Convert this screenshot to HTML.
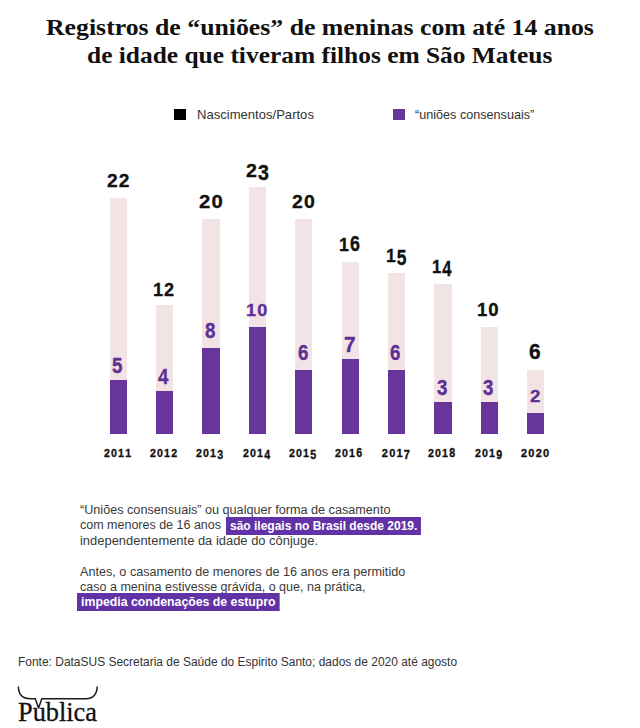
<!DOCTYPE html>
<html><head><meta charset="utf-8">
<style>
html,body{margin:0;padding:0;background:#fff;}
body{width:640px;height:728px;position:relative;overflow:hidden;font-family:"Liberation Sans",sans-serif;}
.ln{position:absolute;white-space:nowrap;transform-origin:0 0;}
.hl{background:#6233a6;color:#fff;font-weight:bold;padding:2px 4px 2px 4px;} .dg{display:flex;align-items:flex-start;white-space:nowrap} .dg>div{flex:none}
.pk{position:absolute;width:17.2px;background:#f2e4e5;}
.pu{position:absolute;width:17.2px;background:#68369a;}
.sq{position:absolute;width:12px;height:11px;top:109px;}
</style></head><body>
<div class="pk" style="left:109.60px;top:197.50px;height:236.50px"></div>
<div class="pu" style="left:109.60px;top:380.25px;height:53.75px"></div>
<div class="pk" style="left:155.99px;top:305.00px;height:129.00px"></div>
<div class="pu" style="left:155.99px;top:391.00px;height:43.00px"></div>
<div class="pk" style="left:202.38px;top:219.00px;height:215.00px"></div>
<div class="pu" style="left:202.38px;top:348.00px;height:86.00px"></div>
<div class="pk" style="left:248.77px;top:186.75px;height:247.25px"></div>
<div class="pu" style="left:248.77px;top:326.50px;height:107.50px"></div>
<div class="pk" style="left:295.16px;top:219.00px;height:215.00px"></div>
<div class="pu" style="left:295.16px;top:369.50px;height:64.50px"></div>
<div class="pk" style="left:341.55px;top:262.00px;height:172.00px"></div>
<div class="pu" style="left:341.55px;top:358.75px;height:75.25px"></div>
<div class="pk" style="left:387.94px;top:272.75px;height:161.25px"></div>
<div class="pu" style="left:387.94px;top:369.50px;height:64.50px"></div>
<div class="pk" style="left:434.33px;top:283.50px;height:150.50px"></div>
<div class="pu" style="left:434.33px;top:401.75px;height:32.25px"></div>
<div class="pk" style="left:480.72px;top:326.50px;height:107.50px"></div>
<div class="pu" style="left:480.72px;top:401.75px;height:32.25px"></div>
<div class="pk" style="left:527.11px;top:369.50px;height:64.50px"></div>
<div class="pu" style="left:527.11px;top:412.50px;height:21.50px"></div>
<div class="ln" style="left:46.25px;top:15px;transform:scaleX(1.1454);font-family:'Liberation Serif',serif;font-weight:bold;font-size:22.5px;line-height:26px;color:#111;">Registros de “uniões” de meninas com até 14 anos</div>
<div class="ln" style="left:87.00px;top:43px;transform:scaleX(1.1299);font-family:'Liberation Serif',serif;font-weight:bold;font-size:22.5px;line-height:26px;color:#111;">de idade que tiveram filhos em São Mateus</div>
<div class="ln" style="left:197.40px;top:107px;transform:scaleX(1.0052);font-family:'Liberation Sans',sans-serif;font-size:13px;line-height:16px;color:#333;">Nascimentos/Partos</div>
<div class="ln" style="left:414.60px;top:107px;transform:scaleX(0.9707);font-family:'Liberation Sans',sans-serif;font-size:13px;line-height:16px;color:#333;">“uniões consensuais”</div>
<div class="ln" style="left:80.40px;top:503px;transform:scaleX(1.0529);font-family:'Liberation Sans',sans-serif;font-size:12px;line-height:15px;color:#3a3a3a;">“Uniões consensuais” ou qualquer forma de casamento</div>
<div class="ln" style="left:80.40px;top:518px;transform:scaleX(1.0412);font-family:'Liberation Sans',sans-serif;font-size:12px;line-height:15px;color:#3a3a3a;">com menores de 16 anos</div>
<div class="ln" style="left:225.75px;top:519px;transform:scaleX(0.9997);font-family:'Liberation Sans',sans-serif;font-size:12px;line-height:15px;color:#3a3a3a;"><span class="hl">são ilegais no Brasil desde 2019.</span></div>
<div class="ln" style="left:80.40px;top:534px;transform:scaleX(1.0777);font-family:'Liberation Sans',sans-serif;font-size:12px;line-height:15px;color:#3a3a3a;">independentemente da idade do cônjuge.</div>
<div class="ln" style="left:80.10px;top:565px;transform:scaleX(1.0531);font-family:'Liberation Sans',sans-serif;font-size:12px;line-height:15px;color:#3a3a3a;">Antes, o casamento de menores de 16 anos era permitido</div>
<div class="ln" style="left:80.10px;top:580px;transform:scaleX(1.0436);font-family:'Liberation Sans',sans-serif;font-size:12px;line-height:15px;color:#3a3a3a;">caso a menina estivesse grávida, o que, na prática,</div>
<div class="ln" style="left:76.75px;top:595px;transform:scaleX(1.0235);font-family:'Liberation Sans',sans-serif;font-size:12px;line-height:15px;color:#3a3a3a;"><span class="hl">impedia condenações de estupro</span></div>
<div class="ln" style="left:18.25px;top:655px;transform:scaleX(0.9972);font-family:'Liberation Sans',sans-serif;font-size:12px;line-height:15px;color:#333;">Fonte: DataSUS Secretaria de Saúde do Espirito Santo; dados de 2020 até agosto</div>
<div class="ln" style="left:17.90px;top:698px;transform:scaleX(0.9938);font-family:'Liberation Serif',serif;font-size:26.5px;line-height:28px;color:#111;-webkit-text-stroke:0.3px #111;">Publica</div>
<div class="ln dg" style="left:106.60px;top:157px;transform:scaleX(1.0667);font-family:'Liberation Sans',sans-serif;font-weight:bold;color:#111;-webkit-text-stroke:0.3px #111;"><div style="font-size:18px;line-height:18px;margin-top:15px;margin-right:1.0px;">2</div><div style="font-size:18px;line-height:18px;margin-top:15px;">2</div></div>
<div class="ln dg" style="left:112.00px;top:340px;transform:scaleX(1.1000);font-family:'Liberation Sans',sans-serif;font-weight:bold;color:#5e2f94;-webkit-text-stroke:0.3px #5e2f94;"><div style="font-size:17px;line-height:17px;margin-top:16px;transform:scaleY(1.250);transform-origin:50% 2px;">5</div></div>
<div class="ln dg" style="left:103.50px;top:427px;transform:scaleX(0.9655);font-family:'Liberation Sans',sans-serif;font-weight:bold;color:#111;-webkit-text-stroke:0.3px #111;"><div style="font-size:11px;line-height:11px;margin-top:21px;margin-right:1.2px;">2</div><div style="font-size:11px;line-height:11px;margin-top:21px;margin-right:1.2px;">0</div><div style="font-size:11px;line-height:11px;margin-top:21px;margin-right:1.2px;">1</div><div style="font-size:11px;line-height:11px;margin-top:21px;">1</div></div>
<div class="ln dg" style="left:153.30px;top:266px;transform:scaleX(1.0048);font-family:'Liberation Sans',sans-serif;font-weight:bold;color:#111;-webkit-text-stroke:0.3px #111;"><div style="font-size:18px;line-height:18px;margin-top:15px;margin-right:1.0px;">1</div><div style="font-size:18px;line-height:18px;margin-top:15px;">2</div></div>
<div class="ln dg" style="left:158.39px;top:351px;transform:scaleX(1.1000);font-family:'Liberation Sans',sans-serif;font-weight:bold;color:#5e2f94;-webkit-text-stroke:0.3px #5e2f94;"><div style="font-size:17px;line-height:17px;margin-top:16px;transform:scaleY(1.250);transform-origin:50% 2px;">4</div></div>
<div class="ln dg" style="left:149.89px;top:427px;transform:scaleX(0.9655);font-family:'Liberation Sans',sans-serif;font-weight:bold;color:#111;-webkit-text-stroke:0.3px #111;"><div style="font-size:11px;line-height:11px;margin-top:21px;margin-right:1.2px;">2</div><div style="font-size:11px;line-height:11px;margin-top:21px;margin-right:1.2px;">0</div><div style="font-size:11px;line-height:11px;margin-top:21px;margin-right:1.2px;">1</div><div style="font-size:11px;line-height:11px;margin-top:21px;">2</div></div>
<div class="ln dg" style="left:198.50px;top:178px;transform:scaleX(1.1238);font-family:'Liberation Sans',sans-serif;font-weight:bold;color:#111;-webkit-text-stroke:0.3px #111;"><div style="font-size:18px;line-height:18px;margin-top:15px;margin-right:1.0px;">2</div><div style="font-size:18px;line-height:18px;margin-top:15px;">0</div></div>
<div class="ln dg" style="left:204.78px;top:308px;transform:scaleX(1.1000);font-family:'Liberation Sans',sans-serif;font-weight:bold;color:#5e2f94;-webkit-text-stroke:0.3px #5e2f94;"><div style="font-size:17px;line-height:17px;margin-top:16px;transform:scaleY(1.250);transform-origin:50% 14px;">8</div></div>
<div class="ln dg" style="left:196.28px;top:427px;transform:scaleX(0.9655);font-family:'Liberation Sans',sans-serif;font-weight:bold;color:#111;-webkit-text-stroke:0.3px #111;"><div style="font-size:11px;line-height:11px;margin-top:21px;margin-right:1.2px;">2</div><div style="font-size:11px;line-height:11px;margin-top:21px;margin-right:1.2px;">0</div><div style="font-size:11px;line-height:11px;margin-top:21px;margin-right:1.2px;">1</div><div style="font-size:11px;line-height:11px;margin-top:21px;transform:scaleY(1.200);transform-origin:50% 1px;">3</div></div>
<div class="ln dg" style="left:245.50px;top:147px;transform:scaleX(1.0905);font-family:'Liberation Sans',sans-serif;font-weight:bold;color:#111;-webkit-text-stroke:0.3px #111;"><div style="font-size:18px;line-height:18px;margin-top:15px;margin-right:1.0px;">2</div><div style="font-size:18px;line-height:18px;margin-top:15px;transform:scaleY(1.231);transform-origin:50% 2px;">3</div></div>
<div class="ln dg" style="left:246.02px;top:286px;transform:scaleX(1.0650);font-family:'Liberation Sans',sans-serif;font-weight:bold;color:#5e2f94;-webkit-text-stroke:0.3px #5e2f94;"><div style="font-size:17px;line-height:17px;margin-top:16px;margin-right:1.0px;">1</div><div style="font-size:17px;line-height:17px;margin-top:16px;">0</div></div>
<div class="ln dg" style="left:242.67px;top:427px;transform:scaleX(0.9655);font-family:'Liberation Sans',sans-serif;font-weight:bold;color:#111;-webkit-text-stroke:0.3px #111;"><div style="font-size:11px;line-height:11px;margin-top:21px;margin-right:1.2px;">2</div><div style="font-size:11px;line-height:11px;margin-top:21px;margin-right:1.2px;">0</div><div style="font-size:11px;line-height:11px;margin-top:21px;margin-right:1.2px;">1</div><div style="font-size:11px;line-height:11px;margin-top:21px;transform:scaleY(1.200);transform-origin:50% 1px;">4</div></div>
<div class="ln dg" style="left:291.60px;top:178px;transform:scaleX(1.0810);font-family:'Liberation Sans',sans-serif;font-weight:bold;color:#111;-webkit-text-stroke:0.3px #111;"><div style="font-size:18px;line-height:18px;margin-top:15px;margin-right:1.0px;">2</div><div style="font-size:18px;line-height:18px;margin-top:15px;">0</div></div>
<div class="ln dg" style="left:297.56px;top:330px;transform:scaleX(1.1000);font-family:'Liberation Sans',sans-serif;font-weight:bold;color:#5e2f94;-webkit-text-stroke:0.3px #5e2f94;"><div style="font-size:17px;line-height:17px;margin-top:16px;transform:scaleY(1.250);transform-origin:50% 14px;">6</div></div>
<div class="ln dg" style="left:289.06px;top:427px;transform:scaleX(0.9655);font-family:'Liberation Sans',sans-serif;font-weight:bold;color:#111;-webkit-text-stroke:0.3px #111;"><div style="font-size:11px;line-height:11px;margin-top:21px;margin-right:1.2px;">2</div><div style="font-size:11px;line-height:11px;margin-top:21px;margin-right:1.2px;">0</div><div style="font-size:11px;line-height:11px;margin-top:21px;margin-right:1.2px;">1</div><div style="font-size:11px;line-height:11px;margin-top:21px;transform:scaleY(1.200);transform-origin:50% 1px;">5</div></div>
<div class="ln dg" style="left:338.75px;top:221px;transform:scaleX(0.9881);font-family:'Liberation Sans',sans-serif;font-weight:bold;color:#111;-webkit-text-stroke:0.3px #111;"><div style="font-size:18px;line-height:18px;margin-top:15px;margin-right:1.0px;">1</div><div style="font-size:18px;line-height:18px;margin-top:15px;transform:scaleY(1.231);transform-origin:50% 15px;">6</div></div>
<div class="ln dg" style="left:343.95px;top:319px;transform:scaleX(1.2222);font-family:'Liberation Sans',sans-serif;font-weight:bold;color:#5e2f94;-webkit-text-stroke:0.3px #5e2f94;"><div style="font-size:17px;line-height:17px;margin-top:16px;transform:scaleY(1.250);transform-origin:50% 2px;">7</div></div>
<div class="ln dg" style="left:335.45px;top:427px;transform:scaleX(0.9655);font-family:'Liberation Sans',sans-serif;font-weight:bold;color:#111;-webkit-text-stroke:0.3px #111;"><div style="font-size:11px;line-height:11px;margin-top:21px;margin-right:1.2px;">2</div><div style="font-size:11px;line-height:11px;margin-top:21px;margin-right:1.2px;">0</div><div style="font-size:11px;line-height:11px;margin-top:21px;margin-right:1.2px;">1</div><div style="font-size:11px;line-height:11px;margin-top:21px;transform:scaleY(1.200);transform-origin:50% 9px;">6</div></div>
<div class="ln dg" style="left:385.80px;top:232px;transform:scaleX(0.9667);font-family:'Liberation Sans',sans-serif;font-weight:bold;color:#111;-webkit-text-stroke:0.3px #111;"><div style="font-size:18px;line-height:18px;margin-top:15px;margin-right:1.0px;">1</div><div style="font-size:18px;line-height:18px;margin-top:15px;transform:scaleY(1.231);transform-origin:50% 2px;">5</div></div>
<div class="ln dg" style="left:390.34px;top:330px;transform:scaleX(1.1000);font-family:'Liberation Sans',sans-serif;font-weight:bold;color:#5e2f94;-webkit-text-stroke:0.3px #5e2f94;"><div style="font-size:17px;line-height:17px;margin-top:16px;transform:scaleY(1.250);transform-origin:50% 14px;">6</div></div>
<div class="ln dg" style="left:381.84px;top:427px;transform:scaleX(1.0000);font-family:'Liberation Sans',sans-serif;font-weight:bold;color:#111;-webkit-text-stroke:0.3px #111;"><div style="font-size:11px;line-height:11px;margin-top:21px;margin-right:1.2px;">2</div><div style="font-size:11px;line-height:11px;margin-top:21px;margin-right:1.2px;">0</div><div style="font-size:11px;line-height:11px;margin-top:21px;margin-right:1.2px;">1</div><div style="font-size:11px;line-height:11px;margin-top:21px;transform:scaleY(1.200);transform-origin:50% 1px;">7</div></div>
<div class="ln dg" style="left:431.70px;top:243px;transform:scaleX(0.9227);font-family:'Liberation Sans',sans-serif;font-weight:bold;color:#111;-webkit-text-stroke:0.3px #111;"><div style="font-size:18px;line-height:18px;margin-top:15px;margin-right:1.0px;">1</div><div style="font-size:18px;line-height:18px;margin-top:15px;transform:scaleY(1.231);transform-origin:50% 2px;">4</div></div>
<div class="ln dg" style="left:436.73px;top:362px;transform:scaleX(1.1000);font-family:'Liberation Sans',sans-serif;font-weight:bold;color:#5e2f94;-webkit-text-stroke:0.3px #5e2f94;"><div style="font-size:17px;line-height:17px;margin-top:16px;transform:scaleY(1.250);transform-origin:50% 2px;">3</div></div>
<div class="ln dg" style="left:428.23px;top:427px;transform:scaleX(0.9655);font-family:'Liberation Sans',sans-serif;font-weight:bold;color:#111;-webkit-text-stroke:0.3px #111;"><div style="font-size:11px;line-height:11px;margin-top:21px;margin-right:1.2px;">2</div><div style="font-size:11px;line-height:11px;margin-top:21px;margin-right:1.2px;">0</div><div style="font-size:11px;line-height:11px;margin-top:21px;margin-right:1.2px;">1</div><div style="font-size:11px;line-height:11px;margin-top:21px;transform:scaleY(1.200);transform-origin:50% 9px;">8</div></div>
<div class="ln dg" style="left:477.30px;top:286px;transform:scaleX(1.0286);font-family:'Liberation Sans',sans-serif;font-weight:bold;color:#111;-webkit-text-stroke:0.3px #111;"><div style="font-size:18px;line-height:18px;margin-top:15px;margin-right:1.0px;">1</div><div style="font-size:18px;line-height:18px;margin-top:15px;">0</div></div>
<div class="ln dg" style="left:483.12px;top:362px;transform:scaleX(1.1000);font-family:'Liberation Sans',sans-serif;font-weight:bold;color:#5e2f94;-webkit-text-stroke:0.3px #5e2f94;"><div style="font-size:17px;line-height:17px;margin-top:16px;transform:scaleY(1.250);transform-origin:50% 2px;">3</div></div>
<div class="ln dg" style="left:474.62px;top:427px;transform:scaleX(0.9655);font-family:'Liberation Sans',sans-serif;font-weight:bold;color:#111;-webkit-text-stroke:0.3px #111;"><div style="font-size:11px;line-height:11px;margin-top:21px;margin-right:1.2px;">2</div><div style="font-size:11px;line-height:11px;margin-top:21px;margin-right:1.2px;">0</div><div style="font-size:11px;line-height:11px;margin-top:21px;margin-right:1.2px;">1</div><div style="font-size:11px;line-height:11px;margin-top:21px;transform:scaleY(1.200);transform-origin:50% 1px;">9</div></div>
<div class="ln dg" style="left:529.00px;top:329px;transform:scaleX(1.1600);font-family:'Liberation Sans',sans-serif;font-weight:bold;color:#111;-webkit-text-stroke:0.3px #111;"><div style="font-size:18px;line-height:18px;margin-top:15px;transform:scaleY(1.231);transform-origin:50% 15px;">6</div></div>
<div class="ln dg" style="left:529.51px;top:372px;transform:scaleX(1.1000);font-family:'Liberation Sans',sans-serif;font-weight:bold;color:#5e2f94;-webkit-text-stroke:0.3px #5e2f94;"><div style="font-size:17px;line-height:17px;margin-top:16px;">2</div></div>
<div class="ln dg" style="left:521.01px;top:427px;transform:scaleX(1.0000);font-family:'Liberation Sans',sans-serif;font-weight:bold;color:#111;-webkit-text-stroke:0.3px #111;"><div style="font-size:11px;line-height:11px;margin-top:21px;margin-right:1.2px;">2</div><div style="font-size:11px;line-height:11px;margin-top:21px;margin-right:1.2px;">0</div><div style="font-size:11px;line-height:11px;margin-top:21px;margin-right:1.2px;">2</div><div style="font-size:11px;line-height:11px;margin-top:21px;">0</div></div>
<div class="sq" style="left:174px;background:#000"></div>
<div class="sq" style="left:393px;background:#68369a"></div>
<svg style="position:absolute;left:0;top:0" width="640" height="728"><path d="M18.4 686.4 C18.4 694 22.5 698.7 31 698.7 L35.3 698.7 L38.6 708 L41.8 698.7 L86 698.7 C93 698.7 97.2 694 97.2 686.6" fill="none" stroke="#1a1a1a" stroke-width="1.5" stroke-linejoin="round"/></svg>
</body></html>
